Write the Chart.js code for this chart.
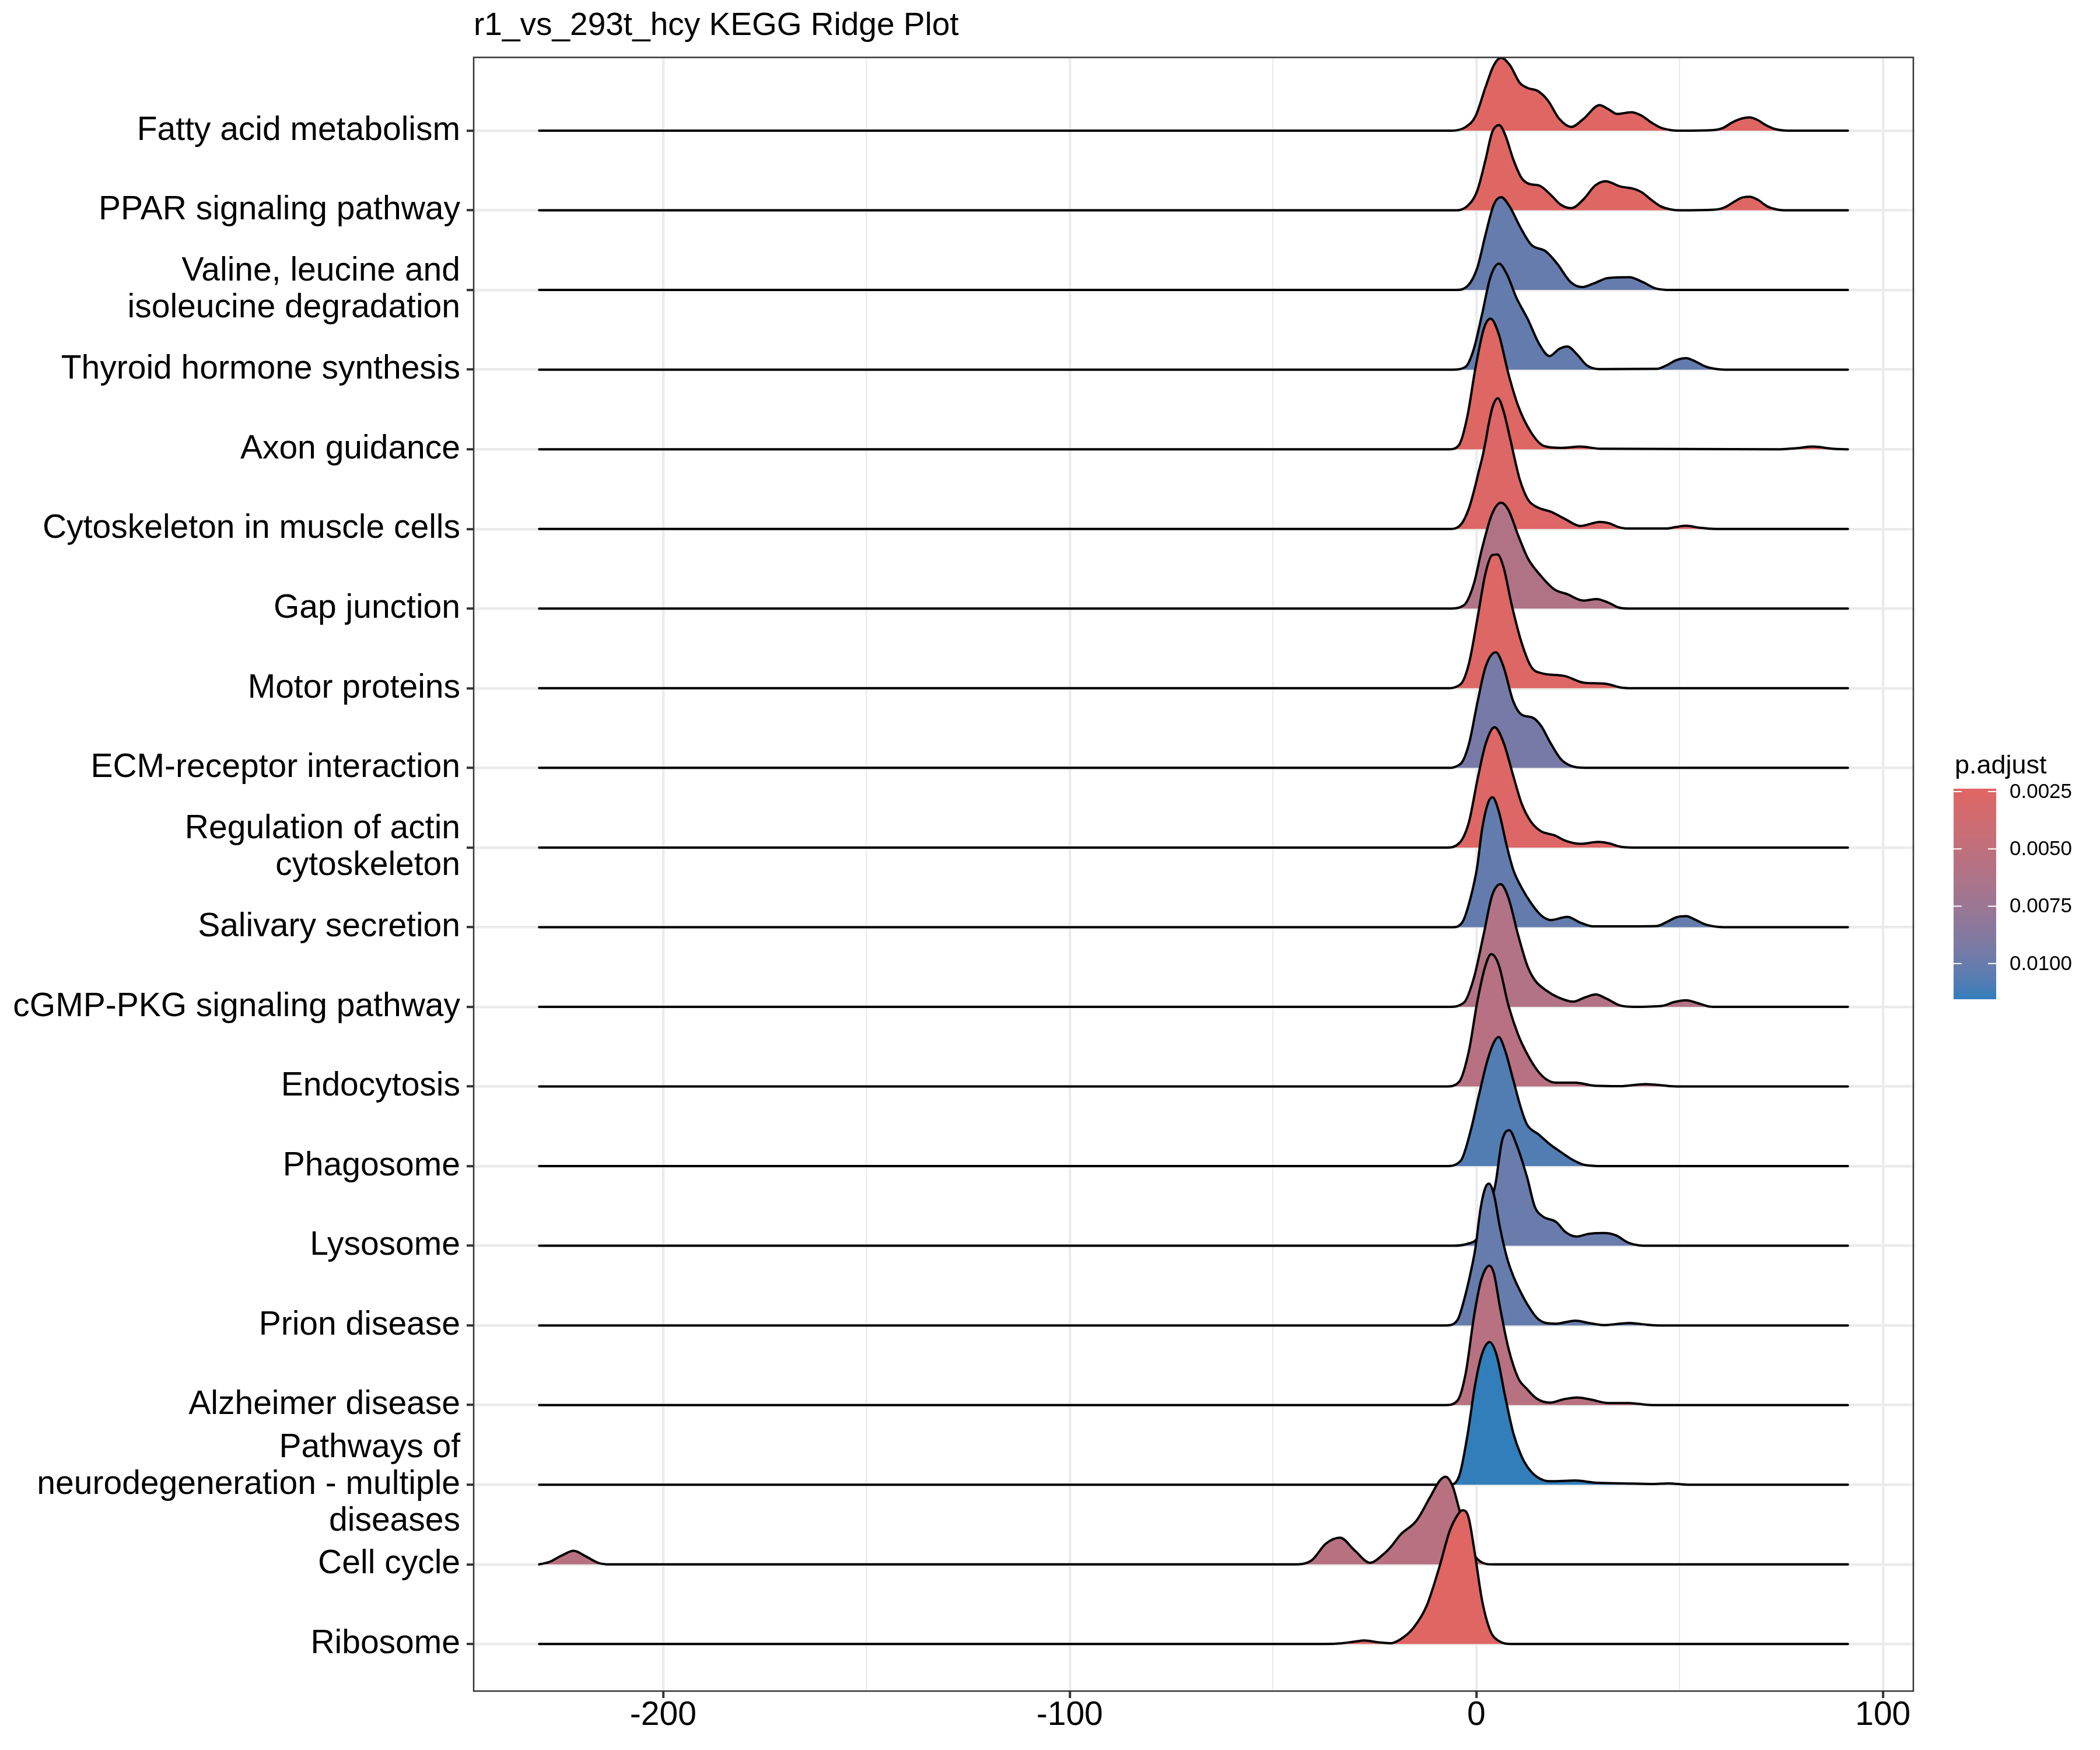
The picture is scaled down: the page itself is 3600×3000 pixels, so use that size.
<!DOCTYPE html>
<html>
<head>
<meta charset="utf-8">
<title>r1_vs_293t_hcy KEGG Ridge Plot</title>
<script src="https://cdn.jsdelivr.net/npm/chart.js@4.4.1/dist/chart.umd.min.js"></script>
<style>
  html, body { margin: 0; padding: 0; background: #ffffff; }
  canvas { display: block; }
</style>
</head>
<body>
<canvas id="ridge-chart" width="3600" height="3000"></canvas>
<script>
// pathways, top row first
const categories = [
  'Fatty acid metabolism',
  'PPAR signaling pathway',
  'Valine, leucine and\nisoleucine degradation',
  'Thyroid hormone synthesis',
  'Axon guidance',
  'Cytoskeleton in muscle cells',
  'Gap junction',
  'Motor proteins',
  'ECM-receptor interaction',
  'Regulation of actin\ncytoskeleton',
  'Salivary secretion',
  'cGMP-PKG signaling pathway',
  'Endocytosis',
  'Phagosome',
  'Lysosome',
  'Prion disease',
  'Alzheimer disease',
  'Pathways of\nneurodegeneration - multiple\ndiseases',
  'Cell cycle',
  'Ribosome',
];

const pAdjust = [
  0.0024, 0.0025, 0.0101, 0.0102, 0.0025, 0.0027, 0.0061, 0.0026, 0.0094, 0.0027,
  0.0102, 0.0060, 0.0056, 0.0108, 0.0100, 0.0101, 0.0055, 0.01153, 0.0055, 0.00237,
];

// shared range of every density line
const xStart = -230.5;
const xEnd = 91.4;

const xTicks = [-200, -100, 0, 100];
const xMinorTicks = [-150, -50, 50];
const legendTicks = [0.0025, 0.005, 0.0075, 0.01];

// ridge heights [x, height in row units]
const fattyAcid = [[-6, 0], [-2.6, 0.047], [-0.2, 0.18], [2.3, 0.55], [4.3, 0.82], [6.1, 0.916], [8.3, 0.82], [10.7, 0.6], [12.7, 0.535], [15.1, 0.5], [17.6, 0.38], [20.4, 0.15], [23.4, 0.047], [26.4, 0.15], [30.3, 0.32], [32.5, 0.27], [34.6, 0.21], [38.2, 0.23], [40.6, 0.19], [43, 0.105], [45.4, 0.037], [47.8, 0.007], [50.1, 0], [58.3, 0.007], [60.6, 0.032], [63, 0.105], [65.4, 0.154], [67.2, 0.166], [69.2, 0.134], [71.1, 0.073], [73.5, 0.02], [75.9, 0.002], [78, 0]];
const ppar = [[-5, 0], [-2.2, 0.054], [0.2, 0.24], [2.3, 0.64], [3.9, 0.98], [5.6, 1.07], [7.1, 0.95], [9.1, 0.64], [11.1, 0.41], [13.1, 0.33], [15.5, 0.31], [18.4, 0.19], [20.8, 0.07], [23.4, 0.027], [26.4, 0.14], [29.2, 0.31], [31.8, 0.365], [35.4, 0.3], [38.7, 0.27], [40.6, 0.23], [43, 0.134], [45.4, 0.049], [47.8, 0.012], [50.1, 0], [58.3, 0.007], [61.1, 0.037], [63.5, 0.11], [65.4, 0.16], [67.2, 0.171], [69.2, 0.134], [71.6, 0.049], [74, 0.01], [76.5, 0]];
const valine = [[-5, 0], [-2.2, 0.047], [0.2, 0.27], [2.3, 0.7], [4.3, 1.07], [6.1, 1.165], [8.3, 1.04], [10.7, 0.8], [13.5, 0.57], [17.1, 0.485], [19.9, 0.33], [23.2, 0.1], [26, 0.037], [28.8, 0.08], [32.4, 0.15], [37.7, 0.16], [40.9, 0.1], [44.1, 0.02], [48, 0]];
const thyroid = [[-5.8, 0], [-2.6, 0.037], [-0.6, 0.26], [1.4, 0.69], [3.5, 1.165], [5.6, 1.33], [7.5, 1.2], [9.9, 0.9], [12.7, 0.63], [15.5, 0.32], [18, 0.17], [20.4, 0.26], [22.4, 0.29], [24.8, 0.19], [27.2, 0.054], [30.4, 0.007], [44.4, 0.01], [46.8, 0.054], [49.2, 0.12], [51.6, 0.144], [54, 0.1], [56.3, 0.04], [58.7, 0.01], [61.1, 0]];
const axon = [[-6.6, 0], [-4.2, 0.057], [-2.2, 0.41], [-0.2, 1.02], [1.9, 1.52], [3.5, 1.64], [5.5, 1.45], [7.9, 0.95], [10.3, 0.545], [13.5, 0.21], [16.7, 0.04], [20.8, 0.017], [25.6, 0.034], [30.4, 0.007], [74.7, 0], [79, 0.015], [82.8, 0.034], [87.6, 0.007]];
const cytoMuscle = [[-6.6, 0], [-3.8, 0.054], [-1.8, 0.26], [-0.2, 0.55], [0.6, 0.72], [1.4, 0.88], [2.3, 1.1], [3, 1.3], [4, 1.53], [5.3, 1.64], [6.7, 1.48], [8.3, 1.14], [9.9, 0.78], [10.7, 0.62], [12.7, 0.37], [15.1, 0.27], [18.4, 0.215], [22, 0.12], [25.6, 0.037], [30.4, 0.088], [32.5, 0.074], [34.9, 0.025], [37.3, 0.005], [46.8, 0.005], [49.2, 0.025], [51.6, 0.04], [54.9, 0.015], [58.7, 0]];
const gapJunction = [[-6.6, 0], [-3, 0.044], [-0.6, 0.31], [1.4, 0.75], [3.9, 1.19], [6.1, 1.33], [7.9, 1.24], [10.3, 0.92], [12.7, 0.63], [15.9, 0.41], [19.1, 0.245], [22.4, 0.18], [26.4, 0.1], [29.6, 0.12], [32.5, 0.074], [34.9, 0.015], [37.5, 0]];
const motorProteins = [[-7.4, 0], [-3.8, 0.054], [-1.8, 0.31], [0.2, 0.85], [2.3, 1.45], [3.9, 1.67], [5.2, 1.68], [6.7, 1.52], [8.7, 1.05], [11.1, 0.58], [13.5, 0.27], [15.9, 0.19], [21.6, 0.155], [26.4, 0.07], [30.4, 0.06], [32.5, 0.05], [35.4, 0.01], [38.5, 0]];
const ecmReceptor = [[-7.4, 0], [-3.8, 0.054], [-1.8, 0.3], [0.2, 0.8], [2.3, 1.27], [4.8, 1.45], [6.7, 1.27], [9.1, 0.835], [11.1, 0.67], [13.9, 0.63], [15.9, 0.53], [18.4, 0.3], [20.8, 0.11], [23.2, 0.027], [27, 0]];
const actinRegulation = [[-7.4, 0], [-4.2, 0.054], [-1.8, 0.32], [0.2, 0.83], [2.3, 1.3], [4.5, 1.51], [6.7, 1.32], [9.1, 0.9], [11.1, 0.56], [13.5, 0.32], [15.9, 0.205], [19.1, 0.155], [22.4, 0.077], [25.6, 0.047], [30, 0.07], [32.5, 0.054], [35.4, 0.01], [38.5, 0]];
const salivary = [[-5.8, 0], [-3.4, 0.064], [-1.4, 0.37], [0.2, 0.75], [1.4, 1.22], [2.9, 1.56], [4, 1.63], [5.5, 1.46], [7.5, 1.02], [9.1, 0.72], [11.1, 0.5], [13.5, 0.3], [15.9, 0.15], [18.4, 0.09], [22.4, 0.13], [25.6, 0.057], [28.8, 0.01], [44.4, 0.015], [46.8, 0.064], [49.2, 0.124], [51.6, 0.139], [54, 0.09], [56.3, 0.035], [59.2, 0.005], [61.5, 0]];
const cgmpPkg = [[-6.6, 0], [-3, 0.054], [-0.6, 0.36], [1.9, 0.93], [3.9, 1.4], [6, 1.54], [7.9, 1.37], [10.3, 0.9], [12.6, 0.51], [14.4, 0.335], [17.2, 0.206], [20.1, 0.12], [23.9, 0.065], [26.8, 0.12], [29.4, 0.155], [32, 0.103], [35.4, 0.017], [38.7, 0], [45.8, 0.013], [48.7, 0.06], [51.6, 0.082], [54.4, 0.047], [57.3, 0.004], [59.5, 0]];
const endocytosis = [[-7.4, 0], [-4.2, 0.06], [-1.8, 0.45], [0.2, 1.05], [2.1, 1.49], [3.7, 1.66], [5.5, 1.53], [7.9, 1.02], [10.3, 0.65], [12.5, 0.41], [14.9, 0.21], [17.2, 0.09], [19.6, 0.047], [24.4, 0.047], [29.2, 0.009], [35.4, 0.004], [41.6, 0.03], [47.8, 0.004], [51, 0]];
const phagosome = [[-7.4, 0], [-3.8, 0.07], [-1.4, 0.44], [0.6, 0.88], [2.7, 1.32], [4.3, 1.55], [5.5, 1.62], [7.1, 1.45], [9.1, 1.08], [11.1, 0.71], [12.5, 0.52], [15.3, 0.4], [18.2, 0.27], [21, 0.17], [23.9, 0.073], [26.3, 0.02], [28.7, 0.004], [31, 0]];
const lysosome = [[-5.8, 0], [-1.8, 0.03], [0.2, 0.09], [2.3, 0.35], [4.7, 0.77], [6.3, 1.31], [8.1, 1.45], [9.9, 1.27], [12.5, 0.86], [14.4, 0.49], [16.3, 0.37], [19.6, 0.3], [22, 0.17], [24.6, 0.116], [27.7, 0.15], [31.5, 0.16], [34.4, 0.13], [37.2, 0.043], [40.1, 0.004], [42.5, 0]];
const prion = [[-7.4, 0], [-4.6, 0.07], [-3, 0.32], [-1.4, 0.66], [-0.2, 0.975], [1, 1.45], [2.1, 1.71], [3.1, 1.78], [4.3, 1.65], [5.9, 1.21], [7.5, 0.86], [9.1, 0.62], [11.1, 0.4], [12.5, 0.27], [14.9, 0.095], [17.2, 0.03], [19.6, 0.022], [24.4, 0.06], [27.7, 0.03], [31.5, 0.004], [37.7, 0.03], [42, 0.009], [45, 0]];
const alzheimer = [[-7.4, 0], [-4.6, 0.057], [-2.6, 0.4], [-0.6, 1.1], [1, 1.53], [2.2, 1.7], [3.2, 1.75], [4.3, 1.66], [5.9, 1.21], [7.9, 0.715], [10.3, 0.34], [12.5, 0.2], [14.9, 0.08], [18.2, 0.03], [21.5, 0.073], [24.8, 0.095], [28.2, 0.069], [32.5, 0.026], [37.7, 0.026], [42, 0.004], [45, 0]];
const neurodegeneration = [[-6.6, 0], [-4.2, 0.11], [-2.2, 0.61], [-0.3, 1.25], [1.4, 1.64], [3.3, 1.79], [5.1, 1.61], [7.1, 1.11], [9.1, 0.65], [11.1, 0.36], [12.5, 0.23], [14.9, 0.1], [18.2, 0.043], [24.4, 0.052], [29.2, 0.026], [36.3, 0.017], [43, 0.009], [47.3, 0.017], [52.1, 0]];
const cellCycle = [[-229.5, 0.01], [-228, 0.03], [-225, 0.11], [-222, 0.17], [-219, 0.1], [-216, 0.02], [-213, 0], [-44, 0], [-40.5, 0.05], [-37, 0.26], [-33.5, 0.335], [-30, 0.18], [-26.1, 0.02], [-23, 0.12], [-21, 0.22], [-18.7, 0.37], [-14.7, 0.55], [-11.4, 0.84], [-9, 1.05], [-7.6, 1.1], [-5.8, 0.98], [-4.2, 0.69], [-2.6, 0.37], [-1, 0.16], [1, 0.036], [4, 0]];
const ribosome = [[-37, 0], [-33, 0.01], [-30, 0.03], [-27.5, 0.044], [-24, 0.02], [-21, 0.01], [-18.7, 0.057], [-15.5, 0.2], [-12.2, 0.48], [-9, 0.98], [-6.6, 1.41], [-4.6, 1.62], [-3.4, 1.68], [-1.9, 1.59], [-0.3, 1.12], [1.4, 0.555], [3.5, 0.16], [5.5, 0.04], [8.7, 0]];

const profiles = [
  fattyAcid, ppar, valine, thyroid, axon, cytoMuscle, gapJunction, motorProteins,
  ecmReceptor, actinRegulation, salivary, cgmpPkg, endocytosis, phagosome, lysosome,
  prion, alzheimer, neurodegeneration, cellCycle, ribosome,
];

const FONT = '"Liberation Sans", Arial, Helvetica, sans-serif';
const LOW_COLOR = '#e06663';
const HIGH_COLOR = '#327eba';
const GRID = '#ebebeb';
const INK = '#333333';

// --- colour ramp in CIELAB, like ggplot's gradient scale ---
function toLinear(c) {
  c /= 255;
  return c <= 0.04045 ? c / 12.92 : Math.pow((c + 0.055) / 1.055, 2.4);
}

function hexToLab(hex) {
  const r = toLinear(parseInt(hex.slice(1, 3), 16));
  const g = toLinear(parseInt(hex.slice(3, 5), 16));
  const b = toLinear(parseInt(hex.slice(5, 7), 16));
  const x = (0.4124564 * r + 0.3575761 * g + 0.1804375 * b) / 0.95047;
  const y = 0.2126729 * r + 0.7151522 * g + 0.072175 * b;
  const z = (0.0193339 * r + 0.119192 * g + 0.9503041 * b) / 1.08883;
  const f = (t) => (t > 216 / 24389 ? Math.cbrt(t) : (24389 / 27 * t + 16) / 116);
  const fx = f(x), fy = f(y), fz = f(z);
  return [116 * fy - 16, 500 * (fx - fy), 200 * (fy - fz)];
}

function labToHex([L, a, b]) {
  const fy = (L + 16) / 116;
  const fx = fy + a / 500;
  const fz = fy - b / 200;
  const inv = (f) => (f * f * f > 216 / 24389 ? f * f * f : (116 * f - 16) / (24389 / 27));
  const x = 0.95047 * inv(fx), y = inv(fy), z = 1.08883 * inv(fz);
  const rgb = [
    3.2404542 * x - 1.5371385 * y - 0.4985314 * z,
    -0.969266 * x + 1.8760108 * y + 0.041556 * z,
    0.0556434 * x - 0.2040259 * y + 1.0572252 * z,
  ].map((c) => {
    const v = c <= 0.0031308 ? 12.92 * c : 1.055 * Math.pow(c, 1 / 2.4) - 0.055;
    return Math.round(Math.min(1, Math.max(0, v)) * 255).toString(16).padStart(2, '0');
  });
  return '#' + rgb.join('');
}

const lowLab = hexToLab(LOW_COLOR);
const highLab = hexToLab(HIGH_COLOR);
const pMin = Math.min(...pAdjust);
const pMax = Math.max(...pAdjust);

function colorFor(p) {
  const t = (p - pMin) / (pMax - pMin);
  return labToHex(lowLab.map((v, i) => v + (highLab[i] - v) * t));
}

// --- datasets: bottom row first so lower ridges are painted in front ---
const rowCount = categories.length;

function buildDatasets() {
  const sets = [];
  for (let row = rowCount - 1; row >= 0; row--) {
    const base = rowCount - row;
    const points = [{ x: xStart, y: base }];
    profiles[row].forEach(([x, h]) => points.push({ x, y: base + h }));
    points.push({ x: xEnd, y: base });
    sets.push({
      label: categories[row],
      data: points,
      fill: { value: base },
      backgroundColor: colorFor(pAdjust[row]),
      borderColor: '#000000',
      borderWidth: 4,
      borderCapStyle: 'round',
      borderJoinStyle: 'round',
      cubicInterpolationMode: 'monotone',
      pointRadius: 0,
      pointHoverRadius: 0,
    });
  }
  return sets;
}

const panelBorder = {
  id: 'panelBorder',
  afterDatasetsDraw(chart) {
    const { ctx, chartArea } = chart;
    ctx.save();
    ctx.strokeStyle = INK;
    ctx.lineWidth = 2.5;
    ctx.strokeRect(chartArea.left, chartArea.top,
      chartArea.right - chartArea.left, chartArea.bottom - chartArea.top);
    ctx.restore();
  },
};

const colorbarLegend = {
  id: 'colorbarLegend',
  afterDraw(chart) {
    const { ctx } = chart;
    const left = 3349, top = 1352, width = 73, height = 360;
    ctx.save();
    ctx.fillStyle = '#000000';
    ctx.font = `45px ${FONT}`;
    ctx.textAlign = 'left';
    ctx.textBaseline = 'alphabetic';
    ctx.fillText('p.adjust', 3351, 1326);

    const steps = 180;
    for (let k = 0; k < steps; k++) {
      const p = pMin + ((k + 0.5) / steps) * (pMax - pMin);
      ctx.fillStyle = colorFor(p);
      ctx.fillRect(left, top + (k * height) / steps, width, height / steps + 1);
    }

    ctx.strokeStyle = '#ffffff';
    ctx.lineWidth = 2;
    ctx.font = `35px ${FONT}`;
    ctx.textBaseline = 'middle';
    legendTicks.forEach((v) => {
      const y = top + ((v - pMin) / (pMax - pMin)) * height;
      ctx.beginPath();
      ctx.moveTo(left, y);
      ctx.lineTo(left + 14, y);
      ctx.moveTo(left + width - 14, y);
      ctx.lineTo(left + width, y);
      ctx.stroke();
      ctx.fillStyle = '#000000';
      ctx.fillText(v.toFixed(4), 3445, y + 1);
    });
    ctx.restore();
  },
};

function initChart() {
  const ctx = document.getElementById('ridge-chart');
  const majorX = (v) => xTicks.includes(v);

  return new Chart(ctx, {
    type: 'line',
    data: { datasets: buildDatasets() },
    options: {
      responsive: false,
      animation: false,
      devicePixelRatio: 1,
      events: [],
      layout: { padding: { top: 0, right: 320, bottom: 0, left: 0 } },
      scales: {
        x: {
          type: 'linear',
          min: -246.6,
          max: 107.5,
          afterBuildTicks: (scale) => {
            scale.ticks = [...xTicks, ...xMinorTicks]
              .sort((a, b) => a - b)
              .map((value) => ({ value }));
          },
          afterFit: (scale) => { scale.height = 101; },
          border: { display: false },
          grid: {
            color: GRID,
            lineWidth: (c) => (majorX(c.tick.value) ? 4.4 : 2.2),
            tickColor: (c) => (majorX(c.tick.value) ? INK : 'rgba(0,0,0,0)'),
            tickWidth: 4,
            tickLength: 12,
          },
          ticks: {
            autoSkip: false,
            maxRotation: 0,
            padding: 2,
            color: '#000000',
            font: { family: FONT, size: 57, lineHeight: 1.0 },
            callback: (value) => (majorX(value) ? String(value) : ''),
          },
        },
        y: {
          type: 'linear',
          min: 0.409,
          max: 20.92,
          afterBuildTicks: (scale) => {
            scale.ticks = categories.map((_, i) => ({ value: i + 1 }));
          },
          afterFit: (scale) => { scale.width = 812; },
          border: { display: false },
          grid: {
            color: GRID,
            lineWidth: 4.4,
            tickColor: INK,
            tickWidth: 4,
            tickLength: 12,
          },
          ticks: {
            autoSkip: false,
            padding: 11,
            color: '#000000',
            font: { family: FONT, size: 57, lineHeight: 1.1 },
            callback: (value) => categories[rowCount - value].split('\n'),
          },
        },
      },
      plugins: {
        legend: { display: false },
        tooltip: { enabled: false },
        title: {
          display: true,
          text: 'r1_vs_293t_hcy KEGG Ridge Plot',
          align: 'start',
          fullSize: false,
          color: '#000000',
          font: { family: FONT, size: 55, weight: 'normal', lineHeight: 1.2 },
          padding: { top: 12, bottom: 20.4 },
        },
      },
    },
    plugins: [panelBorder, colorbarLegend],
  });
}

document.addEventListener('DOMContentLoaded', initChart);
</script>
</body>
</html>
